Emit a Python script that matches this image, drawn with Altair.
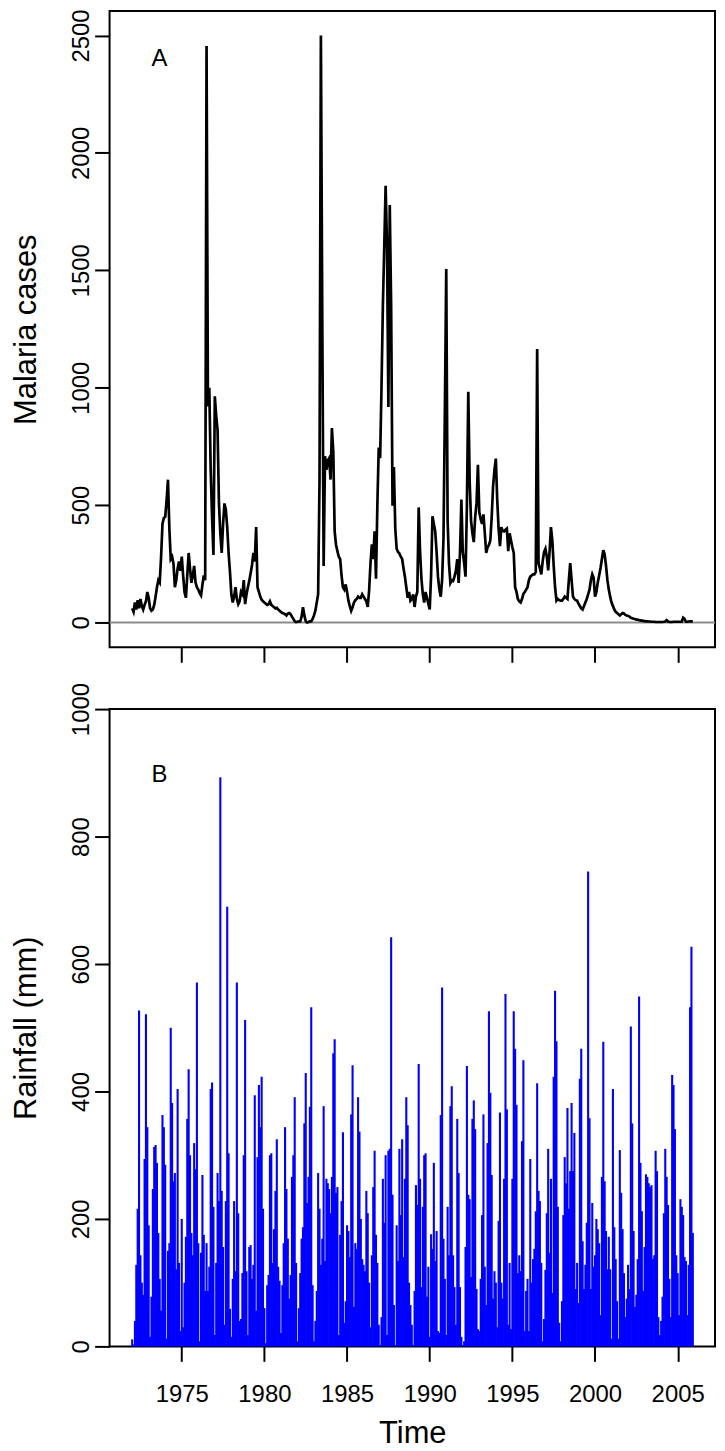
import altair as alt
import pandas as pd

start_year = 1972

malaria_cases = [
    60, 45, 85, 55, 95, 60, 100, 70, 55, 75, 90, 130,
    105, 60, 50, 55, 75, 110, 150, 180, 170, 280, 420, 445,
    450, 520, 608, 400, 270, 280, 250, 150, 180, 230, 260, 220,
    280, 200, 130, 105, 200, 296, 230, 169, 200, 241, 170, 150,
    140, 125, 115, 160, 200, 180, 2455, 920, 1000, 650, 450, 287,
    963, 880, 819, 507, 380, 296, 420, 507, 480, 406, 296, 215,
    120, 85, 110, 150, 100, 78, 90, 130, 120, 180, 78, 120,
    150, 177, 210, 245, 296, 260, 406, 150, 130, 110, 97, 90,
    85, 80, 75, 78, 90, 75, 70, 65, 60, 62, 55, 50,
    45, 40, 38, 35, 30, 38, 40, 35, 25, 15, 5, 2,
    3, 5, 5, 25, 65, 30, 5, 0, 2, 5, 5, 15,
    30, 50, 85, 120, 600, 2500, 1300, 241, 708, 650, 690, 700,
    608, 828, 727, 388, 330, 304, 280, 270, 200, 150, 140, 162,
    130, 93, 70, 50, 65, 85, 95, 100, 110, 105, 105, 120,
    110, 100, 90, 66, 135, 250, 333, 270, 388, 186, 500, 745,
    700, 1000, 1348, 1600, 1860, 1605, 918, 1778, 1348, 497, 662, 400,
    314, 300, 294, 280, 270, 230, 195, 150, 105, 130, 93, 100,
    120, 66, 110, 130, 490, 300, 186, 120, 85, 130, 105, 80,
    55, 200, 452, 420, 388, 300, 195, 140, 110, 180, 360, 900,
    1505, 434, 250, 168, 180, 177, 195, 220, 270, 168, 300, 524,
    300, 253, 195, 500, 982, 600, 434, 380, 342, 450, 507, 672,
    469, 440, 420, 460, 380, 296, 320, 330, 350, 450, 580, 650,
    698, 524, 400, 325, 406, 390, 388, 395, 400, 304, 380, 350,
    320, 296, 150, 130, 100, 90, 85, 100, 122, 130, 140, 150,
    180, 195, 200, 205, 205, 215, 1165, 253, 230, 205, 260, 300,
    314, 280, 222, 300, 406, 350, 241, 150, 93, 100, 95, 93,
    93, 100, 110, 105, 100, 180, 253, 180, 110, 100, 95, 93,
    80, 70, 60, 55, 70, 85, 100, 120, 140, 180, 205, 190,
    110, 130, 170, 200, 232, 270, 308, 290, 241, 180, 140, 110,
    85, 70, 55, 45, 40, 35, 30, 35, 40, 38, 32, 30,
    28, 25, 20, 18, 16, 15, 12, 12, 10, 9, 8, 7,
    6, 5, 5, 4, 4, 3, 3, 3, 2, 2, 2, 2,
    2, 2, 3, 4, 10, 4, 2, 2, 2, 3, 3, 3,
    3, 3, 3, 4, 20, 15, 3, 3, 4, 5, 5, 5,
]

rain_1972_1983 = [
    11, 3, 40, 128, 216, 527, 143, 100, 81, 294, 521, 344,
    190, 15, 78, 247, 313, 316, 288, 178, 106, 56, 363, 344,
    285, 12, 150, 162, 500, 382, 259, 272, 121, 404, 131, 24,
    200, 30, 100, 172, 357, 435, 300, 178, 143, 319, 278, 571,
    162, 8, 147, 269, 175, 87, 162, 87, 125, 404, 414, 219,
    18, 131, 272, 228, 893, 244, 156, 34, 228, 690, 303, 59,
    15, 106, 228, 118, 571, 209, 40, 43, 115, 300, 512, 118,
    18, 156, 159, 106, 128, 394, 56, 297, 410, 344, 423, 216,
    60, 5, 96, 112, 300, 303, 131, 184, 244, 325, 125, 103,
    21, 96, 162, 344, 247, 169, 75, 112, 266, 300, 391, 131,
    8, 60, 115, 169, 187, 350, 429, 225, 266, 376, 532, 96,
    8, 40, 87, 272,
]

rain_1983_1995 = [
    216, 128, 169, 377, 134, 263, 256, 247, 209, 266,
    460, 482, 241, 250, 18, 175, 228, 336, 37, 71,
    190, 181, 140, 364, 441, 62, 162, 153, 391, 337,
    200, 137, 128, 118, 244, 209, 100, 30, 143, 250,
    307, 175, 131, 34, 2, 46, 263, 194, 300, 18,
    307, 310, 642, 238, 65, 2, 190, 134, 310, 206,
    325, 140, 263, 391, 347, 100, 65, 34, 2, 87,
    253, 222, 443, 263, 93, 219, 300, 303, 78, 125,
    15, 176, 153, 288, 134, 181, 24, 21, 363, 563,
    169, 106, 18, 219, 143, 377, 408, 143, 93, 34,
    357, 272, 93, 15, 2, 8, 156, 440, 238, 231,
    109, 357, 386, 341, 90, 27, 24, 106, 206, 364,
    125, 65, 319, 526, 398, 269, 75, 118, 100, 30,
    197, 367, 100, 75, 263, 553, 372, 34, 131, 27,
    263, 526, 467,
]

rain_1995_2005 = [
    379, 115, 143, 118, 322, 449, 24, 87, 106, 24,
    294, 100, 137, 153, 212, 413, 244, 228, 131, 8,
    43, 120, 209, 310, 147, 263, 84, 423, 558, 479,
    219, 37, 8, 71, 206, 297, 256, 374, 216, 275,
    382, 275, 335, 90, 131, 68, 420, 467, 165, 90,
    128, 194, 745, 358, 90, 225, 125, 143, 200, 184,
    162, 49, 266, 478, 259, 181, 121, 172, 121, 12,
    404, 187, 137, 71, 12, 308, 241, 184, 115, 46,
    75, 128, 90, 502, 350, 181, 62, 81, 137, 549,
    288, 212, 87, 156, 270, 266, 256, 250, 253, 137,
    143, 307, 275, 46, 18, 40, 78, 209, 310, 266,
    222, 106, 46, 426, 410, 341, 143, 115, 49, 231,
    219, 206, 140, 134, 49, 128, 532, 627, 178,
]

year_ticks = [1975, 1980, 1985, 1990, 1995, 2000, 2005]
case_ticks = [0, 500, 1000, 1500, 2000, 2500]
rain_ticks = [0, 200, 400, 600, 800, 1000]
panel_labels = ["A", "B"]

rainfall = rain_1972_1983 + rain_1983_1995 + rain_1995_2005

cases_df = pd.DataFrame({
    "t": [start_year + i / 12 for i in range(len(malaria_cases))],
    "cases": malaria_cases,
})
rain_df = pd.DataFrame({
    "t": [start_year + i / 12 for i in range(len(rainfall))],
    "rain": rainfall,
})

FONT = "Liberation Sans"

common_axis = dict(
    domain=False, grid=False, ticks=True, tickSize=15, tickWidth=2,
    tickColor="black", labelFont=FONT, labelFontSize=24, labelColor="black",
    titleFont=FONT, titleFontSize=31, titleColor="black",
    titleFontWeight="normal", labelFlush=False, labelOverlap=False,
    format="d",
)

x_scale = alt.Scale(domain=[1970.633, 2007.259], nice=False, zero=False)

top_x_axis = alt.Axis(values=year_ticks, labels=False, title=None, **common_axis)
top_y_scale = alt.Scale(domain=[-106, 2604], nice=False, zero=False)
top_y_axis = alt.Axis(
    values=case_ticks, title="Malaria cases", labelAngle=270,
    labelAlign="center", labelBaseline="alphabetic", labelPadding=6,
    titleAngle=270, titleAlign="center", titleBaseline="alphabetic",
    titleX=-74, **common_axis,
)

zero_line = alt.Chart(pd.DataFrame({"z": [0]})).mark_rule(
    color="#8c8c8c", strokeWidth=2
).encode(y=alt.Y("z:Q", scale=top_y_scale, axis=top_y_axis))

cases_line = alt.Chart(cases_df).mark_line(
    color="black", strokeWidth=2.7
).encode(
    x=alt.X("t:Q", scale=x_scale, axis=top_x_axis),
    y=alt.Y("cases:Q", scale=top_y_scale, axis=top_y_axis),
)

label_a = alt.Chart(pd.DataFrame({"label": [panel_labels[0]]})).mark_text(
    font=FONT, fontSize=24, align="center", baseline="middle", color="black"
).encode(text="label:N", x=alt.value(50), y=alt.value(48))

top = alt.layer(zero_line, cases_line, label_a).properties(width=608, height=639)

bottom_x_axis = alt.Axis(
    values=year_ticks, title="Time", labelBaseline="alphabetic",
    labelPadding=40, titleBaseline="alphabetic", titleY=97, **common_axis,
)
rain_scale = alt.Scale(domain=[0, 1000], nice=False, zero=False)
rain_axis = alt.Axis(
    values=rain_ticks, title="Rainfall (mm)", labelAngle=270,
    labelAlign="center", labelBaseline="alphabetic", labelPadding=6,
    titleAngle=270, titleAlign="center", titleBaseline="alphabetic",
    titleX=-74, **common_axis,
)

rain_bars = alt.Chart(rain_df).transform_calculate(base="0").mark_rule(
    color="#0000ff", strokeWidth=2.1
).encode(
    x=alt.X("t:Q", scale=x_scale, axis=bottom_x_axis),
    y=alt.Y("rain:Q", scale=rain_scale, axis=rain_axis),
    y2="base:Q",
)

label_b = alt.Chart(pd.DataFrame({"label": [panel_labels[1]]})).mark_text(
    font=FONT, fontSize=24, align="center", baseline="middle", color="black"
).encode(text="label:N", x=alt.value(50), y=alt.value(66))

bottom = alt.layer(rain_bars, label_b).properties(width=608, height=640)

chart = alt.vconcat(top, bottom, spacing=62, bounds="flush").properties(
    padding={"left": 2, "top": -4, "right": 0, "bottom": 0}
).configure_view(stroke="black", strokeWidth=2)

chart.save("out.html", embed_options={"renderer": "svg", "actions": False})
